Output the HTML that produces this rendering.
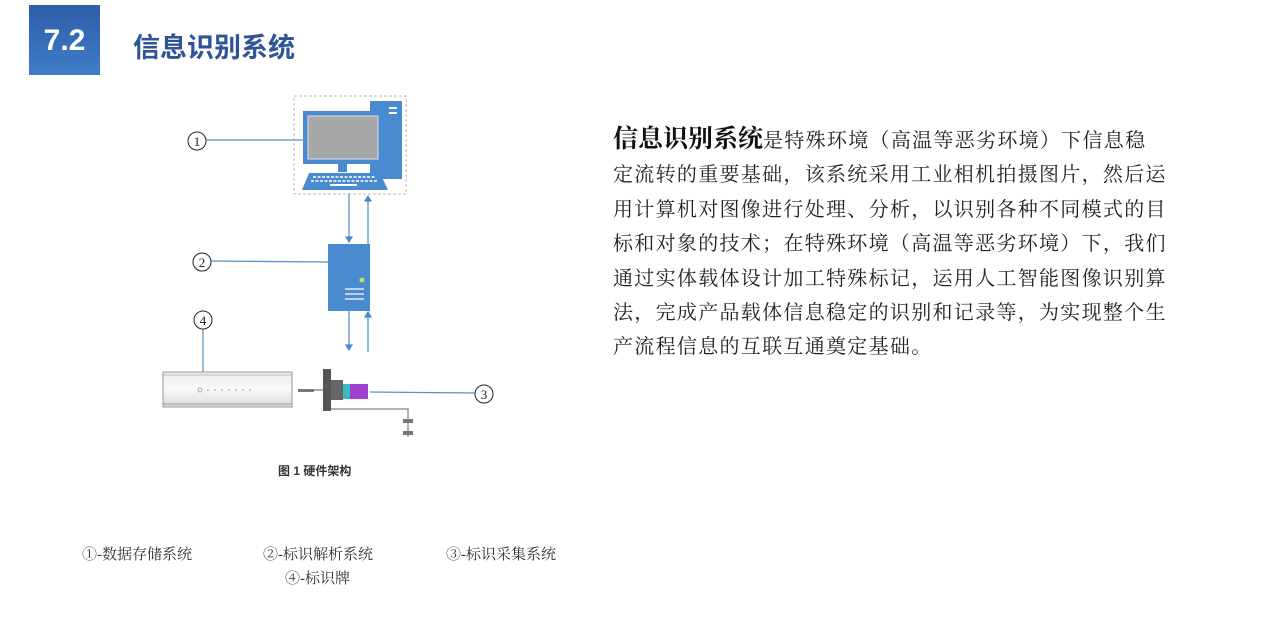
<!DOCTYPE html>
<html><head><meta charset="utf-8"><style>
body{margin:0;width:1280px;height:630px;background:#fff;position:relative;overflow:hidden;font-family:"Liberation Sans","Noto Sans CJK SC",sans-serif}
.box{position:absolute;left:29px;top:5px;width:71px;height:70px;background:linear-gradient(#2e5ea8,#3f7cc7);color:#fff;font-weight:bold;font-size:30px;text-align:center;line-height:72px}
.title{position:absolute;left:133px;top:26px;font-size:27px;font-weight:bold;color:#2f5597;letter-spacing:0px}
.para{position:absolute;left:613px;top:123px;font-family:"Liberation Serif","Noto Serif CJK SC",serif;font-size:20px;letter-spacing:1.3px;line-height:34.4px;color:#222;white-space:nowrap}
.para b{font-size:25px;letter-spacing:0;color:#111}
.t{position:absolute;font-family:"Liberation Serif","Noto Serif CJK SC",serif;color:#333;white-space:nowrap}
</style></head><body>
<div class="box">7.2</div>
<div class="title">信息识别系统</div>
<div class="para"><b>信息识别系统</b>是特殊环境（高温等恶劣环境）下信息稳<br>定流转的重要基础，该系统采用工业相机拍摄图片，然后运<br>用计算机对图像进行处理、分析，以识别各种不同模式的目<br>标和对象的技术；在特殊环境（高温等恶劣环境）下，我们<br>通过实体载体设计加工特殊标记，运用人工智能图像识别算<br>法，完成产品载体信息稳定的识别和记录等，为实现整个生<br>产流程信息的互联互通奠定基础。</div>
<svg width="1280" height="630" style="position:absolute;left:0;top:0">
<defs><linearGradient id="g" x1="0" y1="0" x2="0" y2="1"><stop offset="0" stop-color="#ececec"/><stop offset="0.5" stop-color="#fafafa"/><stop offset="1" stop-color="#d8d8d8"/></linearGradient></defs>
<rect x="294" y="96" width="112" height="98" fill="none" stroke="#bbb" stroke-dasharray="3,2"/>
<rect x="370" y="101" width="32" height="78" fill="#4a8bd0"/>
<rect x="389" y="107" width="8" height="2" fill="#fff"/><rect x="389" y="112" width="8" height="2" fill="#fff"/>
<rect x="303" y="111" width="80" height="53" fill="#4a8bd0"/>
<rect x="308" y="116" width="70" height="43" fill="#a7a7a7" stroke="#dde" stroke-width="1"/>
<rect x="338" y="164" width="9" height="8" fill="#4a8bd0"/>
<polygon points="309,173 380,173 388,190 302,190" fill="#4a8bd0"/>
<g stroke="#fff" stroke-width="1.5" stroke-dasharray="3,1.5"><line x1="313" y1="177" x2="375" y2="177"/><line x1="311" y1="181" x2="377" y2="181"/></g>
<rect x="330" y="184" width="27" height="2" fill="#fff"/>
<g stroke="#4a8bd0" stroke-width="1.2" fill="#4a8bd0">
<line x1="349" y1="194" x2="349" y2="238"/><polygon points="346,237 352,237 349,242"/>
<line x1="368" y1="244" x2="368" y2="201"/><polygon points="365,201 371,201 368,196"/>
<line x1="349" y1="311" x2="349" y2="346"/><polygon points="346,345 352,345 349,350"/>
<line x1="368" y1="352" x2="368" y2="317"/><polygon points="365,317 371,317 368,312"/>
</g>
<rect x="328" y="244" width="42" height="67" fill="#4a8bd0"/>
<circle cx="362" cy="280" r="2.5" fill="#c8e060"/>
<g stroke="#fff" stroke-width="1.2"><line x1="345" y1="289" x2="364" y2="289"/><line x1="345" y1="294" x2="364" y2="294"/><line x1="345" y1="299" x2="364" y2="299"/></g>
<g stroke="#5b8fc8" stroke-width="1.2"><line x1="206" y1="140" x2="306" y2="140"/><line x1="211" y1="261" x2="328" y2="262"/><line x1="203" y1="329" x2="203" y2="383"/><line x1="370" y1="392" x2="475" y2="393"/></g>
<g fill="#fff" stroke="#222" stroke-width="1"><circle cx="197" cy="141" r="9"/><circle cx="202" cy="262" r="9"/><circle cx="203" cy="320" r="9"/><circle cx="484" cy="394" r="9"/></g>
<g font-family="Liberation Serif,serif" font-size="13" text-anchor="middle" fill="#222"><text x="197" y="146">1</text><text x="202" y="267">2</text><text x="203" y="325">4</text><text x="484" y="399">3</text></g>
<rect x="163" y="372" width="129" height="35" fill="url(#g)" stroke="#999" stroke-width="1"/>
<line x1="163" y1="375" x2="292" y2="375" stroke="#bbb"/><line x1="163" y1="404" x2="292" y2="404" stroke="#999"/>
<g fill="#bbb"><circle cx="200" cy="390" r="2" fill="none" stroke="#aaa"/><circle cx="208" cy="390" r="1"/><circle cx="215" cy="390" r="1"/><circle cx="222" cy="390" r="1"/><circle cx="229" cy="390" r="1"/><circle cx="236" cy="390" r="1"/><circle cx="243" cy="390" r="1"/><circle cx="250" cy="390" r="1"/></g>
<rect x="298" y="389" width="16" height="3" fill="#777"/><line x1="314" y1="390" x2="323" y2="390" stroke="#555"/>
<rect x="323" y="369" width="8" height="42" fill="#555"/>
<rect x="331" y="380" width="12" height="20" fill="#666"/>
<rect x="343" y="384" width="7" height="15" fill="#3bb8c0"/>
<rect x="350" y="384" width="18" height="15" fill="#a040d0"/>
<polyline points="331,409 408,409 408,437" fill="none" stroke="#999" stroke-width="1.5"/>
<rect x="403" y="419" width="10" height="4" fill="#777"/><rect x="403" y="431" width="10" height="4" fill="#777"/>
</svg>
<div class="t" style="left:278px;top:462px;font-size:12px;font-weight:bold;font-family:'Liberation Sans','Noto Sans CJK SC',sans-serif">图 1 硬件架构</div>
<div class="t" style="left:82px;top:543px;font-size:15px">①-数据存储系统</div>
<div class="t" style="left:263px;top:543px;font-size:15px">②-标识解析系统</div>
<div class="t" style="left:446px;top:543px;font-size:15px">③-标识采集系统</div>
<div class="t" style="left:285px;top:567px;font-size:15px">④-标识牌</div>
</body></html>
